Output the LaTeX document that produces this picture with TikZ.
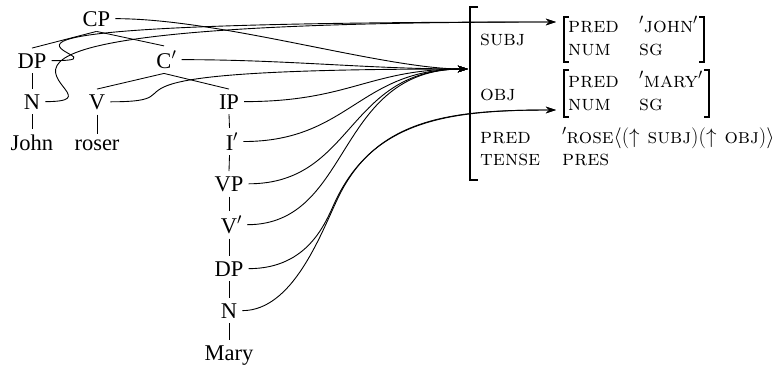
\RequirePackage{fix-cm}
\documentclass[tikz,border=0pt]{standalone}
\usepackage{fontspec}
\newfontfamily\treefont{Liberation Serif}
\usetikzlibrary{arrows.meta}
\begin{document}
\begin{tikzpicture}[x=1pt,y=-1pt,
  tn/.style={font=\treefont\fontsize{22.5}{27}\selectfont, inner sep=5pt, anchor=base},
  br/.style={line width=0.85pt},
  arr/.style={line width=0.9pt, -{Stealth[length=10pt,width=6.5pt]}},
  lk/.style={arr, out=0, in=180},
  fs/.style={font=\fontsize{21.6}{26}\selectfont\scshape, inner sep=0pt, anchor=base west},
  brk/.style={line width=1.4pt},
]
\useasboundingbox (0,0) rectangle (779,367);
% tree nodes
\node[tn] (CP) at (96.5,26) {CP};
\node[tn] (DPu) at (32,68) {DP};
\node[tn] (Cb) at (164,68) {\phantom{$'$}C$'$};
\node[tn] (Nu) at (32,109) {N};
\node[tn] (V) at (97,109) {V};
\node[tn] (IP) at (229,109) {IP};
\node[tn] (John) at (32,150) {John};
\node[tn] (roser) at (97,150) {roser};
\node[tn] (Ib) at (229.5,150) {\phantom{$'$}I$'$};
\node[tn] (VP) at (229,191) {VP};
\node[tn] (Vb) at (229,233) {\phantom{$'$}V$'$};
\node[tn] (DPl) at (229,276) {DP};
\node[tn] (Nl) at (229,318) {N};
\node[tn] (Mary) at (229,360) {Mary};
% tree edges
\draw[br] (CP.south) -- (DPu.north);
\draw[br] (CP.south) -- (Cb.north);
\draw[br] (Cb.south) -- (V.north);
\draw[br] (Cb.south) -- (IP.north);
\draw[br] (DPu.south) -- (Nu.north);
\draw[br] (Nu.south) -- (John.north);
\draw[br] (V.south) -- (roser.north);
\draw[br] (IP.south) -- (Ib.north);
\draw[br] (Ib.south) -- (VP.north);
\draw[br] (VP.south) -- (Vb.north);
\draw[br] (Vb.south) -- (DPl.north);
\draw[br] (DPl.south) -- (Nl.north);
\draw[br] (Nl.south) -- (Mary.north);
% f-structure
\coordinate (mainT) at (468,69);
\coordinate (subjT) at (556,22);
\coordinate (objT) at (556,110);
\draw[brk] (478,7) -- (470,7) -- (470,180) -- (478,180);
\draw[brk] (569,17) -- (564,17) -- (564,62) -- (569,62);
\draw[brk] (699,17) -- (704,17) -- (704,62) -- (699,62);
\draw[brk] (569,70) -- (564,70) -- (564,117) -- (569,117);
\draw[brk] (704,70) -- (709,70) -- (709,117) -- (704,117);
\node[fs] (subj) at (480,45) {subj};
\node[fs] (obj) at (480,100) {obj};
\node[fs] (pred) at (480,143) {pred};
\node[fs] (tense) at (480,165) {tense};
\node[fs] (p1) at (568,32) {pred};
\node[fs] (v1) at (639,32) {$'$john$'$};
\node[fs] (n1) at (568,55) {num};
\node[fs] (s1) at (639,55) {sg};
\node[fs] (p2) at (568,87) {pred};
\node[fs] (v2) at (639,87) {$'$mary$'$};
\node[fs] (n2) at (568,110) {num};
\node[fs] (s2) at (639,110) {sg};
\node[fs, font=\fontsize{21}{26}\selectfont\scshape] (v3) at (562,143) {$'$rose$\langle(\uparrow$ subj$)(\uparrow$ obj$)\rangle$};
\node[fs] (v4) at (562,165) {pres};
% links to the outer f-structure
\draw[lk, out distance=106pt, in distance=85pt] (CP.east) to (mainT);
\draw[lk, out distance=106pt, in distance=100pt] (Cb.east) to (mainT);
\draw[lk, out distance=105pt, in distance=427pt] (V.east) to (mainT);
\draw[lk, out distance=106pt, in distance=99pt] (IP.east) to (mainT);
\draw[lk, out distance=106pt, in distance=109pt] (Ib.east) to (mainT);
\draw[lk, out distance=106pt, in distance=122pt] (VP.east) to (mainT);
\draw[lk, out distance=106pt, in distance=134pt] (Vb.east) to (mainT);
% links to SUBJ
\draw[lk, out distance=107pt, in distance=747pt] (DPu.east) to (subjT);
\draw[lk, out distance=107pt, in distance=747pt] (Nu.east) to (subjT);
% links to OBJ
\coordinate (kN) at (337,200);
\coordinate (kD) at (335,202);
\draw[arr] (DPl.east) .. controls +(60,0) and (325.7,222) .. (kD)
  .. controls (373,120.4) and (448,110) .. (objT);
\draw[arr] (Nl.east) .. controls +(50,0) and (320,236) .. (kN)
  .. controls (375,118) and (450,110) .. (objT);
\end{tikzpicture}
\end{document}
